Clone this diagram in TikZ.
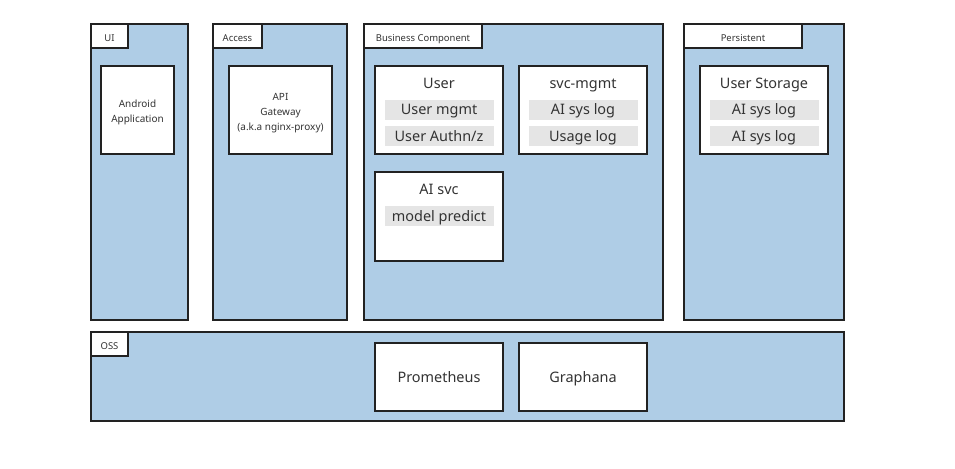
\documentclass[tikz,border=0pt]{standalone}
\usepackage{fontspec}
\setmainfont{Noto Sans}
\definecolor{layerblue}{RGB}{175,205,230}
\definecolor{bargray}{RGB}{229,229,229}
\definecolor{edge}{RGB}{34,34,34}
\begin{document}
\begin{tikzpicture}[x=1bp, y=-1bp,
    layer/.style = {draw=edge, line width=1.5bp, fill=layerblue},
    tab/.style = {draw=edge, line width=1.5bp, fill=white},
    comp/.style = {draw=edge, line width=1.5bp, fill=white},
    tablabel/.style = {font=\fontsize{9.5}{11}\selectfont, text=black!80, text height=9.5bp, text depth=0.5bp},
    small/.style = {font=\fontsize{10}{15}\selectfont, text=black!80, align=center},
    big/.style = {font=\fontsize{14.5}{17}\selectfont, text=black!80, text height=11.5bp, text depth=1.5bp},
    bar/.style = {fill=bargray, minimum width=109bp, minimum height=20bp, inner sep=0pt, font=\fontsize{14.5}{17}\selectfont, text=black!80, text height=11.5bp, text depth=1.5bp}]
    \useasboundingbox (0,0) rectangle (955,469);
    % layers
    \draw[layer] (91,24) rectangle (188,320);
    \draw[layer] (213,24) rectangle (347,320);
    \draw[layer] (364,24) rectangle (663,320);
    \draw[layer] (684,24) rectangle (844,320);
    \draw[layer] (91,332) rectangle (844,421);
    % tabs
    \draw[tab] (91,24) rectangle (128,48);
    \draw[tab] (213,24) rectangle (262,48);
    \draw[tab] (364,24) rectangle (482,48);
    \draw[tab] (684,24) rectangle (802,48);
    \draw[tab] (91,332) rectangle (128,356);
    \node[tablabel] (ui) at (109.5,37) {UI};
    \node[tablabel] (access) at (237.5,37) {Access};
    \node[tablabel] (business) at (423,37) {Business Component};
    \node[tablabel] (persistent) at (743,37) {Persistent};
    \node[tablabel] (oss) at (109.5,345) {OSS};
    % components
    \draw[comp] (101,66) rectangle (174,154);
    \draw[comp] (229,66) rectangle (332,154);
    \draw[comp] (375,66) rectangle (503,154);
    \draw[comp] (519,66) rectangle (647,154);
    \draw[comp] (375,172) rectangle (503,261);
    \draw[comp] (700,66) rectangle (828,154);
    \draw[comp] (375,343) rectangle (503,411);
    \draw[comp] (519,343) rectangle (647,411);
    \node[small] (android) at (137.5,112) {Android\\Application};
    \node[small] (gateway) at (280.5,113) {API\\Gateway\\(a.k.a nginx-proxy)};
    \node[big] (user) at (439,84) {User};
    \node[bar] (usermgmt) at (439,110) {User mgmt};
    \node[bar] (authn) at (439,136.5) {User Authn/z};
    \node[big] (svcmgmt) at (583,84) {svc-mgmt};
    \node[bar] (syslog) at (583,110) {AI sys log};
    \node[bar] (usagelog) at (583,136.5) {Usage log};
    \node[big] (aisvc) at (439,190) {AI svc};
    \node[bar] (predict) at (439,216.5) {model predict};
    \node[big] (storage) at (764,84) {User Storage};
    \node[bar] (storelogA) at (764,110) {AI sys log};
    \node[bar] (storelogB) at (764,136.5) {AI sys log};
    \node[big] (prometheus) at (439,377) {Prometheus};
    \node[big] (graphana) at (583,377) {Graphana};
\end{tikzpicture}
\end{document}
